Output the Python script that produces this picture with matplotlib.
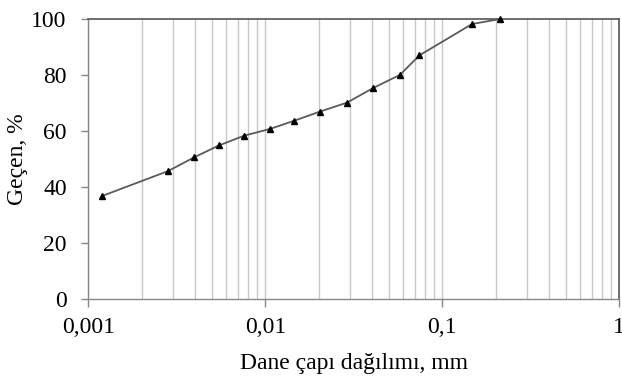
import matplotlib
matplotlib.use("Agg")
import matplotlib.pyplot as plt
from matplotlib.ticker import FixedLocator, FuncFormatter, LogLocator, NullFormatter

grain_size_mm = [0.0012, 0.00283, 0.00397, 0.00547, 0.0076, 0.01064, 0.01452,
                 0.0204, 0.029, 0.0407, 0.0577, 0.0741, 0.147, 0.212]
passing_pct = [36.9, 45.8, 50.7, 54.9, 58.4, 60.8, 63.7,
               67.0, 70.2, 75.4, 80.1, 87.0, 98.2, 100.0]
x_ticks = [0.001, 0.01, 0.1, 1]
x_tick_labels = ["0,001", "0,01", "0,1", "1"]
y_ticks = [0, 20, 40, 60, 80, 100]

plt.rcParams['font.family'] = ['Liberation Serif', 'DejaVu Serif']

fig = plt.figure(figsize=(6.22, 3.78), dpi=100)
ax = fig.add_axes([0.142, 0.208, 0.8537, 0.7417])

ax.set_xscale('log')
ax.set_xlim(0.001, 1)
ax.set_ylim(0, 100)

# vertical grid at major + minor positions
ax.xaxis.set_minor_locator(LogLocator(base=10, subs=range(2, 10)))
ax.xaxis.set_minor_formatter(NullFormatter())
ax.grid(True, axis='x', which='both', color='#c8c8c8', linewidth=1.0)
ax.set_axisbelow(True)

ax.plot(grain_size_mm, passing_pct, color='#5a5a5a', linewidth=1.3,
        marker='^', markersize=4.5, markerfacecolor='black', markeredgecolor='black',
        zorder=3, clip_on=False)

ax.xaxis.set_major_locator(FixedLocator(x_ticks))
ax.xaxis.set_major_formatter(FuncFormatter(lambda v, p: x_tick_labels[x_ticks.index(v)] if v in x_ticks else ""))
ax.set_yticks(y_ticks)

ax.tick_params(axis='x', which='major', direction='out', length=5.4, width=1, color='#888888',
               labelsize=17, pad=7)
ax.tick_params(axis='x', which='minor', length=0)
ax.tick_params(axis='y', direction='out', length=4.8, width=1, color='#888888',
               labelsize=17, pad=10.8)

for side in ['left', 'bottom']:
    ax.spines[side].set_color('#888888')
    ax.spines[side].set_linewidth(1.0)
for side in ['top', 'right']:
    ax.spines[side].set_color('#555555')
    ax.spines[side].set_linewidth(1.2)

ax.set_xlabel("Dane çapı dağılımı, mm", fontsize=17, labelpad=11)
ax.set_ylabel("Geçen, %", fontsize=17, labelpad=2.5)

fig.savefig("out.png", dpi=100)
